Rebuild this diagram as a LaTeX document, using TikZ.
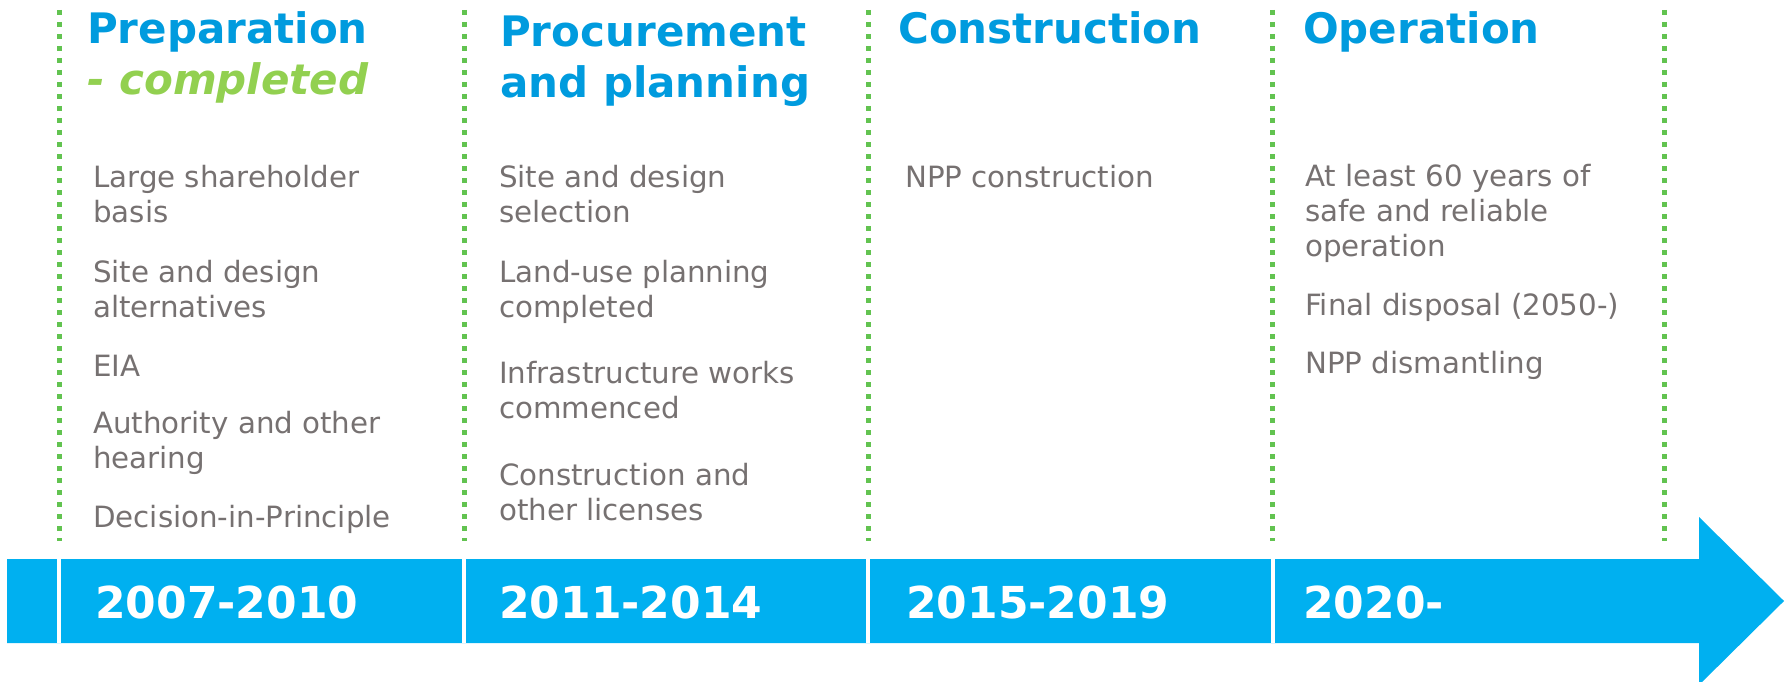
\documentclass[tikz,border=0pt]{standalone}
\usepackage{fontspec}
\setmainfont{DejaVu Sans}
\definecolor{titleblue}{HTML}{009BDE}
\definecolor{barblue}{HTML}{00B0F0}
\definecolor{donegreen}{HTML}{92D050}
\definecolor{dotgreen}{HTML}{62C350}
\definecolor{itemgray}{HTML}{767171}
\begin{document}
\begin{tikzpicture}[x=1pt,y=-1pt,
  % base west of a multi-line node sits on its last line
  phase/.style={anchor=base west, inner sep=0pt, align=left, text=titleblue,
    font=\fontsize{42}{51}\selectfont\bfseries},
  item/.style={anchor=base west, inner sep=0pt, align=left, text=itemgray,
    font=\fontsize{29.3}{35}\selectfont},
  year/.style={anchor=base west, inner sep=0pt, text=white,
    font=\fontsize{44}{50}\selectfont\bfseries},
  divider/.style={draw=dotgreen, line width=5pt, dash pattern=on 5pt off 7pt},
  gap/.style={fill=white}]
\useasboundingbox (0,0) rectangle (1787,682);
\clip (0,0) rectangle (1787,682);

% timeline arrow
\fill[barblue] (7,559) -- (1699,559) -- (1699,517) -- (1784,601)
  -- (1699,685) -- (1699,643) -- (7,643) -- cycle;
% white cuts between the periods
\foreach \x in {59,464,868,1273}
  \fill[gap] (\x-2,559) rectangle (\x+2,643);

% dotted column dividers
\foreach \x in {59,464,868,1272,1664}
  \draw[divider] (\x,10) -- (\x,541);

% phase headings
\node[phase] (t1) at (87,95) {Preparation\\{\color{donegreen}\itshape - completed}};
\node[phase] (t2) at (500,98) {Procurement\\and planning};
\node[phase] (t3) at (898,44) {Construction};
\node[phase] (t4) at (1303,44) {Operation};

% preparation items
\node[item] (p1) at (93,222) {Large shareholder\\basis};
\node[item] (p2) at (93,317) {Site and design\\alternatives};
\node[item] (p3) at (93,376) {EIA};
\node[item] (p4) at (93,468) {Authority and other\\hearing};
\node[item] (p5) at (93,527) {Decision-in-Principle};

% procurement items
\node[item] (q1) at (499,222) {Site and design\\selection};
\node[item] (q2) at (499,317) {Land-use planning\\completed};
\node[item] (q3) at (499,418) {Infrastructure works\\commenced};
\node[item] (q4) at (499,520) {Construction and\\other licenses};

% construction items
\node[item] (c1) at (905,187) {NPP construction};

% operation items
\node[item] (o1) at (1305,256) {At least 60 years of\\safe and reliable\\operation};
\node[item] (o2) at (1305,315) {Final disposal (2050-)};
\node[item] (o3) at (1305,373) {NPP dismantling};

% years
\node[year] (y1) at (95,618) {2007-2010};
\node[year] (y2) at (499,618) {2011-2014};
\node[year] (y3) at (906,618) {2015-2019};
\node[year] (y4) at (1303,618) {2020-};
\end{tikzpicture}
\end{document}
